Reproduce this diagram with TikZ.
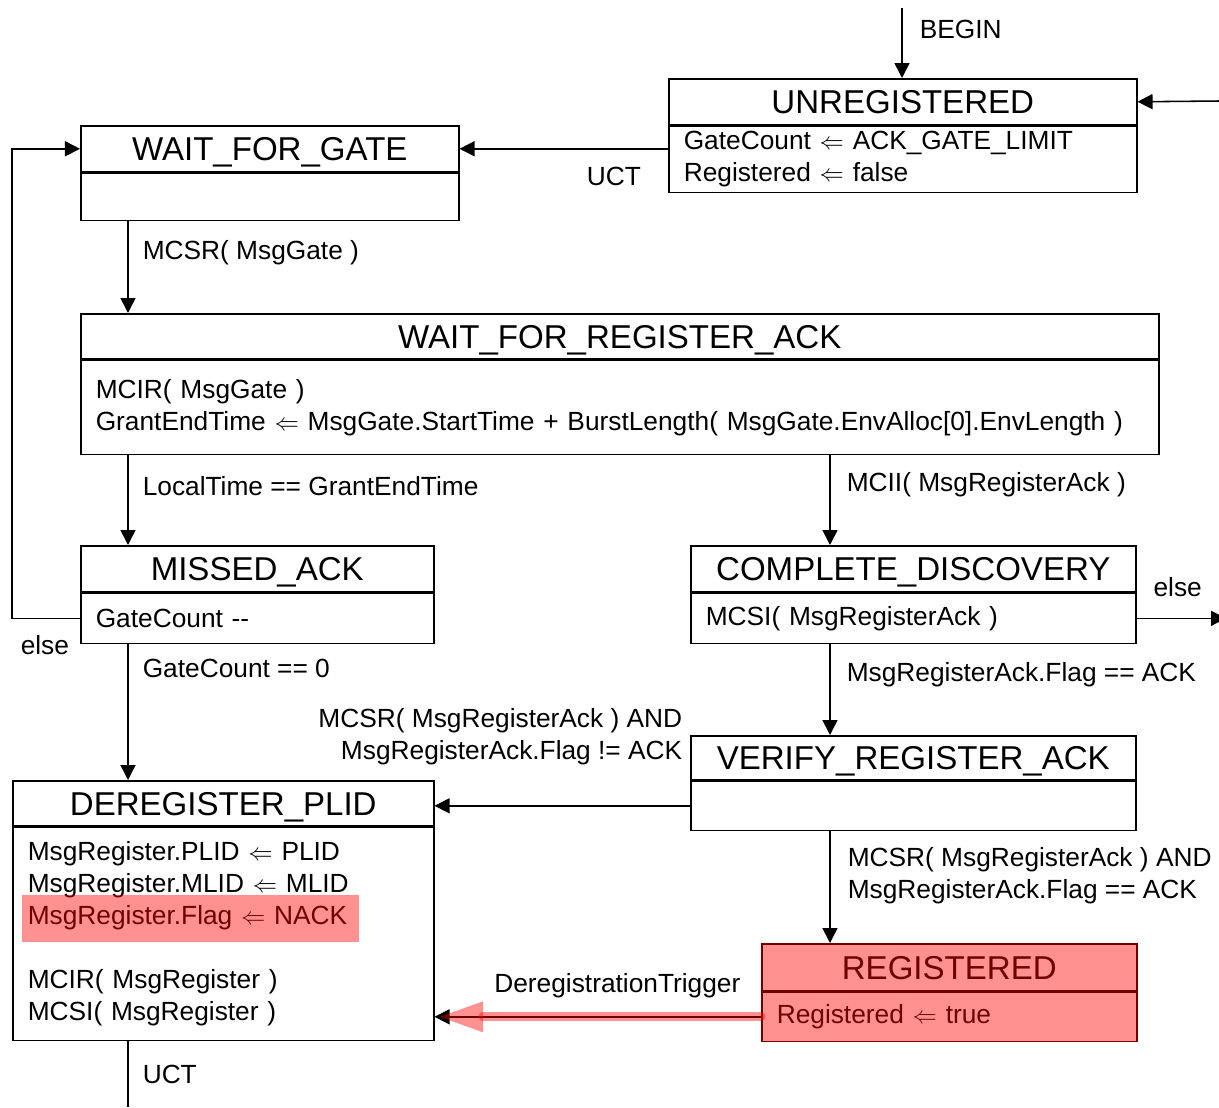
\documentclass[tikz,border=0pt]{standalone}
\usepackage{fontspec}
\setmainfont{Liberation Sans}
\usetikzlibrary{arrows.meta}

\begin{document}
\begin{tikzpicture}[x=0.025cm,y=-0.025cm]
	\def\Px{0.025cm}
	\tikzstyle{fleche}=[-{Triangle[length=0.375cm,width=0.375cm]},line width=1.1pt]
	\tikzstyle{etat}=[draw,line width=1.1pt,anchor=north west,inner sep=0pt]
	\tikzstyle{tete}=[etat,font=\fontsize{23.5}{28}\selectfont,text height=16.8pt,text depth=0pt]
	\tikzstyle{corps}=[etat,inner xsep=15*\Px,align=left,font=\fontsize{18.7}{22.7}\selectfont]
	\tikzstyle{etiquette}=[inner sep=0pt,align=left,font=\fontsize{18.7}{22.7}\selectfont]
	\tikzstyle{surlignage}=[red,opacity=0.43]
	\useasboundingbox (0,0) rectangle (1219,1107);
	\coordinate (colA) at (128,0);
	\coordinate (colB) at (830,0);
	% etats
	\node[tete,minimum width=468*\Px,minimum height=46*\Px] (U) at (668,78) {UNREGISTERED};
	\node[corps,text width=438*\Px,minimum height=66*\Px] (Uc) at (U.south west) {GateCount $\Leftarrow$ ACK\_GATE\_LIMIT\\Registered $\Leftarrow$ false};
	\node[tete,minimum width=378*\Px,minimum height=46*\Px] (WG) at (80,125) {WAIT\_FOR\_GATE};
	\node[corps,text width=348*\Px,minimum height=47*\Px] (WGc) at (WG.south west) {};
	\node[tete,minimum width=1078*\Px,minimum height=45*\Px] (WR) at (80,313) {WAIT\_FOR\_REGISTER\_ACK};
	\node[corps,text width=1048*\Px,minimum height=94*\Px] (WRc) at (WR.south west) {MCIR( MsgGate )\\GrantEndTime $\Leftarrow$ MsgGate.StartTime + BurstLength( MsgGate.EnvAlloc[0].EnvLength )};
	\node[tete,minimum width=353*\Px,minimum height=46*\Px] (MA) at (80,545) {MISSED\_ACK};
	\node[corps,text width=323*\Px,minimum height=50*\Px] (MAc) at (MA.south west) {GateCount -{}-};
	\node[tete,minimum width=445*\Px,minimum height=46*\Px] (CD) at (690,545) {COMPLETE\_DISCOVERY};
	\node[corps,text width=415*\Px,minimum height=50*\Px] (CDc) at (CD.south west) {MCSI( MsgRegisterAck )};
	\node[tete,minimum width=445*\Px,minimum height=44*\Px] (VR) at (690,735) {VERIFY\_REGISTER\_ACK};
	\node[corps,text width=415*\Px,minimum height=49*\Px] (VRc) at (VR.south west) {};
	\node[tete,minimum width=421*\Px,minimum height=45*\Px] (DP) at (12,780) {DEREGISTER\_PLID};
	\node[corps,text width=391*\Px,minimum height=213*\Px] (DPc) at (DP.south west) {MsgRegister.PLID $\Leftarrow$ PLID\\MsgRegister.MLID $\Leftarrow$ MLID\\MsgRegister.Flag $\Leftarrow$ NACK\\[22.7pt]MCIR( MsgRegister )\\MCSI( MsgRegister )};
	\node[tete,minimum width=375*\Px,minimum height=47*\Px] (RG) at (761,943) {REGISTERED};
	\node[corps,text width=345*\Px,minimum height=49*\Px] (RGc) at (RG.south west) {Registered $\Leftarrow$ true};
	% transitions
	\coordinate (debut) at (902,8);
	\coordinate (retour) at (1219,101);
	\coordinate (sortie) at (1226,616);
	\coordinate (fin) at (128,1107);
	\draw[fleche] (debut) -- node[etiquette,pos=0.3,anchor=west,xshift=17*\Px] {BEGIN} (debut |- U.north);
	\draw[fleche] (retour) -- (U.east);
	\draw[fleche] (WG.east -| Uc.west) -- node[etiquette,pos=0.26,anchor=north,yshift=-18*\Px] {UCT} (WG.east);
	\draw[fleche] (WGc.south -| colA) -- node[etiquette,pos=0.34,anchor=west,xshift=14*\Px] {MCSR( MsgGate )} (WR.north -| colA);
	\draw[fleche] (WRc.south -| colA) -- node[etiquette,pos=0.34,anchor=west,xshift=14*\Px] {LocalTime == GrantEndTime} (MA.north -| colA);
	\draw[fleche] (WRc.south -| colB) -- node[etiquette,pos=0.33,anchor=west,xshift=16*\Px] {MCII( MsgRegisterAck )} (CD.north -| colB);
	\draw[fleche] (MAc.west) -- ++(-68,0) node[etiquette,anchor=north west,xshift=8*\Px,yshift=-16*\Px] {else} |- (WG.west);
	\draw[fleche] (MAc.south -| colA) -- node[etiquette,pos=0.18,anchor=west,xshift=14*\Px] {GateCount == 0} (DP.north -| colA);
	\draw[fleche] (CDc.east) -- node[etiquette,pos=0.46,anchor=south,yshift=21*\Px] {else} (CDc.east -| sortie);
	\draw[fleche] (CDc.south -| colB) -- node[etiquette,pos=0.34,anchor=west,xshift=16*\Px] {MsgRegisterAck.Flag == ACK} (VR.north -| colB);
	\draw[fleche] (VRc.west) -- node[etiquette,pos=0,anchor=south east,align=right,xshift=-7*\Px,yshift=40*\Px] {MCSR( MsgRegisterAck ) AND\\MsgRegisterAck.Flag != ACK} (VRc.west -| DP.east);
	\draw[fleche] (VRc.south -| colB) -- node[etiquette,pos=0.4,anchor=west,xshift=17*\Px] {MCSR( MsgRegisterAck ) AND\\MsgRegisterAck.Flag == ACK} (RG.north -| colB);
	\draw[fleche] (RGc.west) -- node[etiquette,pos=0.44,anchor=south,yshift=18*\Px] {DeregistrationTrigger} (RGc.west -| DPc.east);
	\draw[line width=1.1pt] (DPc.south -| colA) -- node[etiquette,pos=0.5,anchor=west,xshift=14*\Px] {UCT} (fin);
	% surlignage
	\fill[surlignage] (22,895) rectangle (359,942);
	\fill[surlignage] (RG.north west) rectangle (RGc.south east);
	\draw[surlignage,line width=9*\Px,line cap=round,-{Triangle[length=1.075cm,width=0.775cm,line width=0pt]}] (RGc.west) -- ++(-321,0);
\end{tikzpicture}
\end{document}
